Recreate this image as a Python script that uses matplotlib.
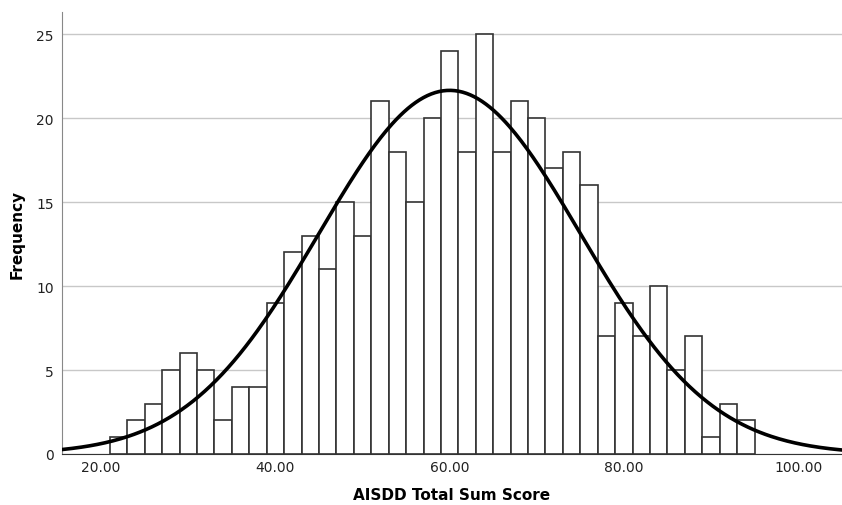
import numpy as np
import matplotlib
matplotlib.use('Agg')
import matplotlib.pyplot as plt

# Histogram counts (bins of width 2 starting at 21)
counts = [1, 2, 3, 5, 6, 5, 2, 4, 4,
          9, 12, 13, 11, 15, 13,
          21, 18, 15, 20, 24, 18, 25, 18,
          21, 20, 17, 18, 16,
          7, 9, 7, 10, 5, 7,
          1, 3, 2]
bin_start = 21.0
bin_width = 2.0
edges = bin_start + bin_width * np.arange(len(counts) + 1)

# Normal curve parameters (as drawn)
mean_score = 60.0
sd_score = 15.0
n_total = sum(counts)

x_ticks = [20, 40, 60, 80, 100]
y_ticks = [0, 5, 10, 15, 20, 25]

fig = plt.figure(figsize=(8.42, 5.06), dpi=100)
ax = fig.add_axes([0.0736, 0.1008, 0.926, 0.873])

ax.bar(edges[:-1], counts, width=bin_width, align='edge', color='white',
       edgecolor='#333333', linewidth=1.2, zorder=2)

xs = np.linspace(15.5, 105, 400)
ys = n_total * bin_width / (sd_score * np.sqrt(2 * np.pi)) * np.exp(-0.5 * ((xs - mean_score) / sd_score) ** 2)
ax.plot(xs, ys, color='black', linewidth=2.6, zorder=3)

ax.set_xlim(15.5, 105)
ax.set_ylim(0, 26.3)
ax.set_xticks(x_ticks)
ax.set_xticklabels([f'{t:.2f}' for t in x_ticks])
ax.set_yticks(y_ticks)
ax.yaxis.grid(True, color='#c8c8c8', linewidth=1, zorder=0)
ax.set_axisbelow(True)
ax.tick_params(length=0, labelsize=10, colors='#222222')
ax.tick_params(axis='x', pad=4)
ax.tick_params(axis='y', pad=6)

for s in ['top', 'right']:
    ax.spines[s].set_visible(False)
ax.spines['left'].set_color('#888888')
ax.spines['bottom'].set_color('#333333')

ax.set_xlabel('AISDD Total Sum Score', fontsize=11, fontweight='bold', labelpad=10)
ax.set_ylabel('Frequency', fontsize=11, fontweight='bold', labelpad=8)

fig.savefig('out.png', dpi=100)
